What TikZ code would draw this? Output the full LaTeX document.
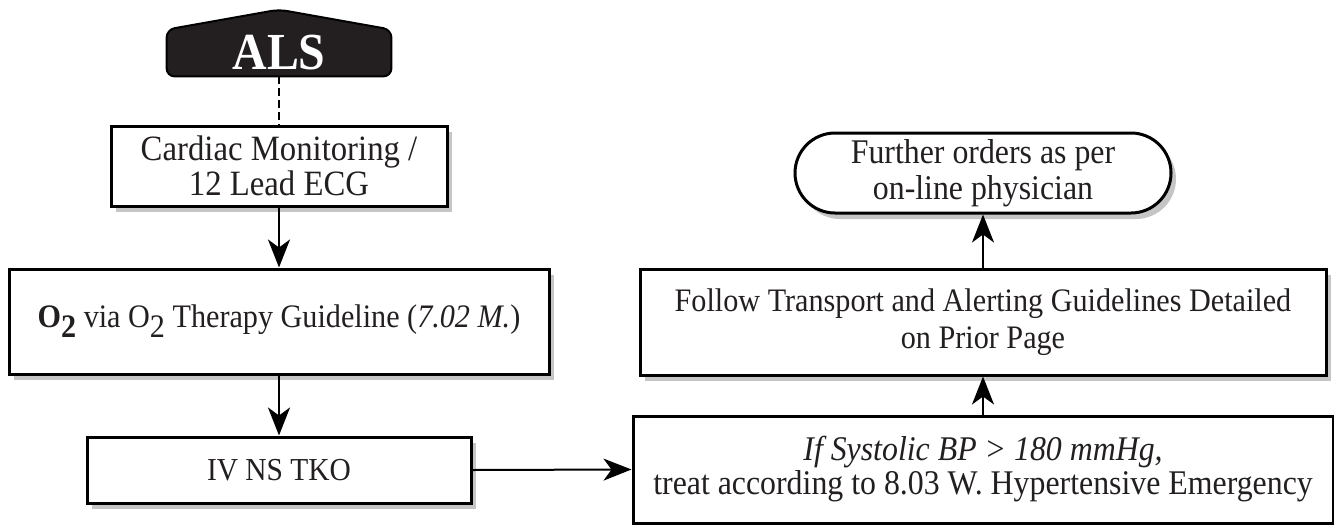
\documentclass[tikz,border=0pt]{standalone}
\usepackage{fontspec}
\setmainfont[FakeStretch=0.92]{Liberation Serif}
\usetikzlibrary{arrows.meta,shadows,backgrounds}
\definecolor{inkgray}{RGB}{35,31,32}

\begin{document}
\begin{tikzpicture}[x=0.5pt,y=-0.5pt,
    flowbox/.style={draw=black,line width=1.5pt,fill=white,align=center,
      text=inkgray,font=\fontsize{16}{18}\selectfont,inner sep=2pt,
      drop shadow={shadow xshift=2.5pt,shadow yshift=-3pt,fill=black!45}},
    arr/.style={-{Stealth[length=14pt,width=11pt,inset=4pt]},line width=1pt}]

  \useasboundingbox (0,0) rectangle (1334,525);

  \node (als) at (279,53) [minimum width=112pt,minimum height=23pt,inner sep=0pt,
    text=white,font=\fontsize{26}{26}\selectfont\bfseries] {ALS};
  \begin{scope}[on background layer]
    \path[fill=inkgray,draw=black,line width=1pt,rounded corners=4pt]
      (als.south west) -- (als.north west) -- ([yshift=10pt]als.north)
      -- (als.north east) -- (als.south east) -- cycle;
  \end{scope}

  \begin{scope}[every node/.style={flowbox}]
    \node (cardiac) at (279,166)   [minimum width=168pt,minimum height=40pt,font=\fontsize{17.8}{16}\selectfont]
      {Cardiac Monitoring /\\12 Lead ECG};
    \node (oxy)     at (279,321.5) [minimum width=270pt,minimum height=52.5pt,font=\fontsize{16.4}{18}\selectfont]
      {\textbf{O\raisebox{-0.3em}{2}} via O\raisebox{-0.3em}{2} Therapy Guideline (\textit{7.02 M.})};
    \node (iv)      at (279,470)   [minimum width=192pt,minimum height=33pt] {IV NS TKO};
    \node (hyper)   at (983,469.5) [minimum width=350pt,minimum height=53.5pt,font=\fontsize{17.3}{17}\selectfont]
      {\textit{If Systolic BP > 180 mmHg,}\\treat according to 8.03 W. Hypertensive Emergency};
    \node (follow)  at (983,322)   [minimum width=343pt,minimum height=53pt,font=\fontsize{16.4}{18.5}\selectfont]
      {Follow Transport and Alerting Guidelines Detailed\\on Prior Page};
    \node (further) at (983,173)   [minimum width=188pt,minimum height=40pt,rounded corners=20pt,font=\fontsize{17.3}{18}\selectfont]
      {Further orders as per\\on-line physician};
  \end{scope}

  \draw[line width=1.3pt,dash pattern=on 4pt off 2pt] (als.south) -- (cardiac.north);

  \begin{scope}[every edge/.style={draw,arr}]
    \path (cardiac.south) edge (oxy.north);
    \path (oxy.south)     edge (iv.north);
    \path (iv.east)       edge (hyper.west);
    \path (hyper.north)   edge (follow.south);
    \path (follow.north)  edge (further.south);
  \end{scope}

\end{tikzpicture}
\end{document}
